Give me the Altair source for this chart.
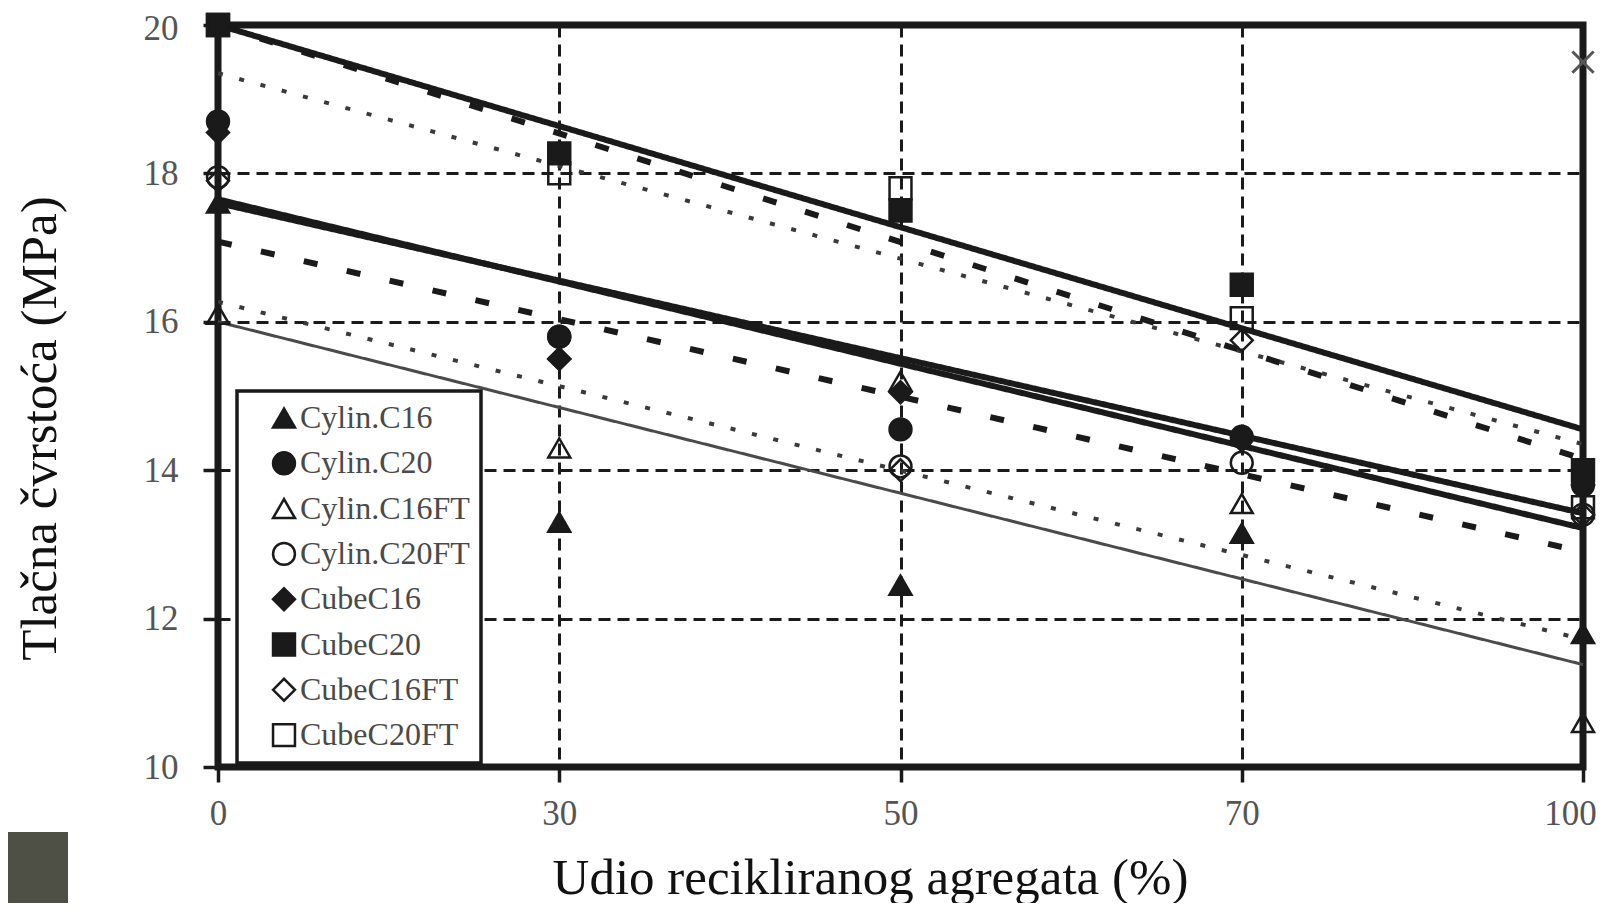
import altair as alt
import pandas as pd

# ---- data ----
x_labels = ['0', '30', '50', '70', '100']
series_names = ['Cylin.C16', 'Cylin.C20', 'Cylin.C16FT', 'Cylin.C20FT',
                'CubeC16', 'CubeC20', 'CubeC16FT', 'CubeC20FT']

cylin_c16 = [17.6, 13.3, 12.45, 13.15, 11.8]
cylin_c20 = [18.7, 15.8, 14.55, 14.45, 13.8]
cylin_c16ft = [16.1, 14.3, 15.2, 13.55, 10.6]
cylin_c20ft = [17.95, 15.8, 14.05, 14.1, 13.4]
cube_c16 = [18.55, 15.5, 15.05, 14.4, 13.8]
cube_c20 = [20.0, 18.27, 17.5, 16.5, 14.0]
cube_c16ft = [17.9, 15.5, 14.0, 15.75, 13.4]
cube_c20ft = [20.0, 18.0, 17.8, 16.05, 13.5]

# trend lines (value at 0 % and at 100 %)
trend_start = [16.0, 17.65, 16.27, 17.08, 17.6, 20.0, 19.35, 20.0]
trend_end = [11.38, 13.22, 11.72, 12.9, 13.42, 14.55, 14.35, 14.15]
trend_style = ['thin', 'thick', 'dotted', 'dashed', 'thick', 'thick', 'dotted', 'dashed']

marker_shapes = ['triangle-up', 'circle', 'triangle-up', 'circle',
                 'diamond', 'square', 'diamond', 'square']
marker_fills = ['#1a1a1a', '#1a1a1a', 'transparent', 'transparent',
                '#1a1a1a', '#1a1a1a', 'transparent', 'transparent']

stray_x = ['100']
stray_y = [19.5]

# ---- tables ----
all_values = [cylin_c16, cylin_c20, cylin_c16ft, cylin_c20ft,
              cube_c16, cube_c20, cube_c16ft, cube_c20ft]
rows = []
for name, vals in zip(series_names, all_values):
    for xl, v in zip(x_labels, vals):
        rows.append({'series': name, 'x': xl, 'y': v})
points_df = pd.DataFrame(rows)

lrows = []
for name, s, e, st in zip(series_names, trend_start, trend_end, trend_style):
    lrows.append({'series': name, 'x': x_labels[0], 'y': s, 'style': st})
    lrows.append({'series': name, 'x': x_labels[-1], 'y': e, 'style': st})
lines_df = pd.DataFrame(lrows)

stray_df = pd.DataFrame({'x': stray_x, 'y': stray_y})

FONT = 'Liberation Serif'
INK = '#1a1a1a'

x_enc = alt.X('x:O', scale=alt.Scale(type='point', domain=x_labels, padding=0),
              axis=alt.Axis(title='Udio recikliranog agregata (%)', labelAngle=0,
                            titleX=652, titleY=126, titleBaseline='alphabetic',
                            labelPadding=14,
                            labelOffset={'condition': {'test': "datum.value === '100'",
                                                       'value': -13}, 'value': 0}))
y_enc = alt.Y('y:Q', scale=alt.Scale(domain=[10, 20], nice=False, zero=False),
              axis=alt.Axis(title='Tlačna čvrstoća (MPa)', values=[10, 12, 14, 16, 18, 20],
                            titleX=-163, titleY=403, titleAngle=270,
                            titleBaseline='alphabetic', titleAlign='center',
                            labelPadding=25,
                            labelOffset={'condition': {'test': 'datum.value === 20',
                                                       'value': 3}, 'value': 0}))


def trend_layer(style, width, dash, color):
    return alt.Chart(lines_df).transform_filter(
        alt.datum.style == style
    ).mark_line(strokeWidth=width, strokeDash=dash, color=color).encode(
        x=x_enc, y=y_enc, detail='series:N')


thick = trend_layer('thick', 6, [1, 0], INK)
thin = trend_layer('thin', 3, [1, 0], '#4a4a4a')
dotted = trend_layer('dotted', 4, [5, 17], '#3a3a3a')
dashed = trend_layer('dashed', 6, [14, 30], INK)

leg = alt.Legend(title=None, orient='none', legendX=19, legendY=366,
                 fillColor='white', strokeColor=INK,
                 padding=11, symbolOffset=20, rowPadding=13.3,
                 labelFont=FONT, labelFontSize=32, labelColor='#4a4a4a',
                 labelOffset=0, symbolSize=480,
                 symbolStrokeWidth=2.5, labelLimit=400)

points = alt.Chart(points_df).mark_point(filled=True, size=480,
                                         strokeWidth=2.5, opacity=1).encode(
    x=x_enc,
    y=y_enc,
    shape=alt.Shape('series:N', scale=alt.Scale(domain=series_names, range=marker_shapes),
                    legend=leg),
    fill=alt.Fill('series:N', scale=alt.Scale(domain=series_names, range=marker_fills),
                  legend=leg),
    stroke=alt.Stroke('series:N', scale=alt.Scale(domain=series_names, range=[INK] * 8),
                      legend=leg),
)

stray = alt.Chart(stray_df).mark_point(shape='M-1,-1L1,1M-1,1L1,-1', filled=False,
                                       size=450, stroke='#555555', strokeWidth=3,
                                       opacity=1).encode(x=x_enc, y=y_enc)

corner = alt.Chart(pd.DataFrame({'k': [0]})).mark_rect(color='#4e5046').encode(
    x=alt.value(-218), x2=alt.value(-150), y=alt.value(807), y2=alt.value(900))

chart = alt.layer(thin, dotted, dashed, thick, points, stray, corner).properties(
    width=1365, height=742,
    autosize=alt.AutoSizeParams(type='none'),
    padding={'left': 210, 'top': 17, 'right': 19, 'bottom': 136},
    background='white',
).configure_view(
    stroke=INK, strokeWidth=7
).configure_axis(
    labelFont=FONT, labelFontSize=35, labelColor='#555555',
    titleFont=FONT, titleFontSize=51, titleColor='#111111', titleFontWeight='normal',
    domain=False, ticks=True, tickSize=15, tickWidth=3.5, tickColor=INK,
    grid=True, gridDash=[12, 7], gridWidth=3, gridColor=INK, gridOpacity=1,
).configure_legend(
    strokeWidth=3.5
)

chart.save('out.html', embed_options={'renderer': 'svg', 'actions': False})
